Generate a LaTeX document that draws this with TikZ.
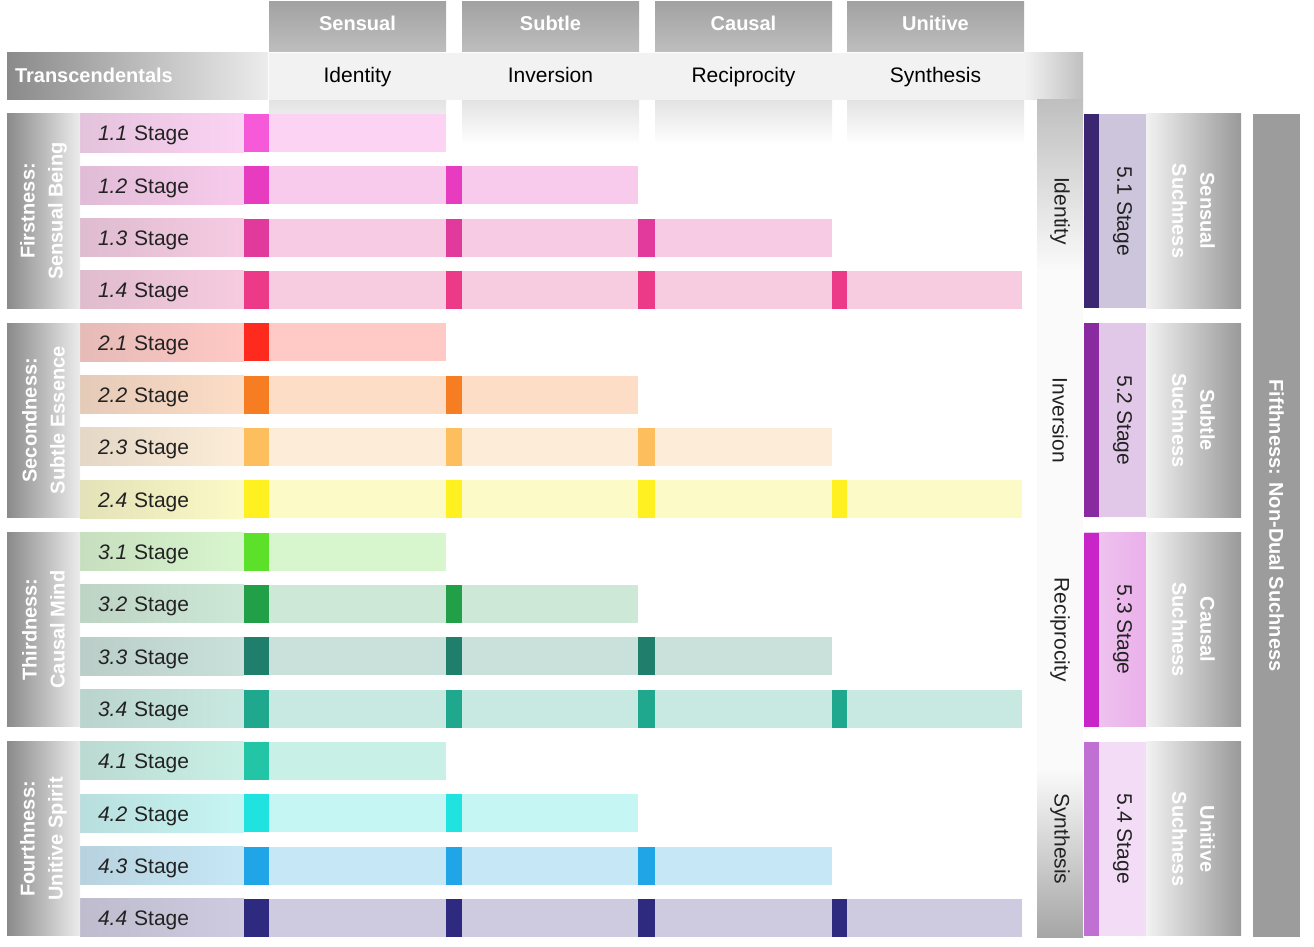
\documentclass[tikz,border=0pt]{standalone}
\usepackage{fontspec}
\setmainfont{Liberation Sans}
\usepackage{xcolor}
\usetikzlibrary{positioning}

% greys
\definecolor{hdtop}{HTML}{A2A2A2}
\definecolor{hdbot}{HTML}{BEBEBE}
\definecolor{grdark}{HTML}{8A8A8A}
\definecolor{grlight}{HTML}{ECECEC}
\definecolor{bandgr}{HTML}{F2F2F2}
\definecolor{txtdark}{HTML}{222222}
% stage markers (mk) and bars (br)
\definecolor{mk11}{HTML}{F65AD8} \definecolor{br11}{HTML}{FCD3F3}
\definecolor{mk12}{HTML}{E83CC0} \definecolor{br12}{HTML}{F8CBEC}
\definecolor{mk13}{HTML}{E23A9C} \definecolor{br13}{HTML}{F6CBE3}
\definecolor{mk14}{HTML}{EC3A88} \definecolor{br14}{HTML}{F7CBE0}
\definecolor{mk21}{HTML}{FF2A1E} \definecolor{br21}{HTML}{FFC9C5}
\definecolor{mk22}{HTML}{F77D22} \definecolor{br22}{HTML}{FDDDC6}
\definecolor{mk23}{HTML}{FDBE5E} \definecolor{br23}{HTML}{FDEDD8}
\definecolor{mk24}{HTML}{FFF022} \definecolor{br24}{HTML}{FCFAC6}
\definecolor{mk31}{HTML}{5CE02A} \definecolor{br31}{HTML}{D8F6CE}
\definecolor{mk32}{HTML}{22A048} \definecolor{br32}{HTML}{CDE8D6}
\definecolor{mk33}{HTML}{1F7E6C} \definecolor{br33}{HTML}{C9E1DA}
\definecolor{mk34}{HTML}{20A88E} \definecolor{br34}{HTML}{C8E9E1}
\definecolor{mk41}{HTML}{22C6A6} \definecolor{br41}{HTML}{C9F0E6}
\definecolor{mk42}{HTML}{20E2DE} \definecolor{br42}{HTML}{C6F6F4}
\definecolor{mk43}{HTML}{20A6E6} \definecolor{br43}{HTML}{C6E7F6}
\definecolor{mk44}{HTML}{2E2A80} \definecolor{br44}{HTML}{CECBE1}
\definecolor{mk51}{HTML}{3B2672} \definecolor{br51}{HTML}{CCC5DC}
\definecolor{mk52}{HTML}{8A2AA0} \definecolor{br52}{HTML}{E2C8E8}
\definecolor{mk53}{HTML}{C824C8} \definecolor{br53}{HTML}{F0C8F0}
\definecolor{mk54}{HTML}{C070D2} \definecolor{br54}{HTML}{F2DCF6}

\begin{document}
\begin{tikzpicture}[
    x=1pt, y=-1pt,
    node distance=0pt,
    box/.style={rectangle, anchor=north west, inner sep=0pt, outer sep=0pt},
    colhead/.style={box, minimum width=177pt, minimum height=50pt, top color=hdtop, bottom color=hdbot, text=white, text height=14pt, text depth=6pt, font=\bfseries\fontsize{20}{24}\selectfont},
    colsub/.style={rectangle, inner sep=0pt, outer sep=0pt, minimum width=177pt, minimum height=47pt, text height=15pt, text depth=2pt, font=\fontsize{21}{25}\selectfont},
    colshade/.style={box, minimum width=177pt, minimum height=45pt, top color=gray!22, bottom color=white},
    stagebox/.style={box, minimum height=38pt, text width=128pt, inner xsep=18pt, align=left, text=txtdark, text height=16pt, text depth=0pt, font=\fontsize{21}{25}\selectfont},
    barbox/.style={box, minimum height=38pt},
    markbox/.style={box, minimum height=38pt},
    groupbox/.style={box, minimum width=73pt, minimum height=194pt, left color=grdark, right color=grlight},
    grouptxt/.style={align=center, text=white, rotate=90, font=\bfseries\fontsize{20}{28}\selectfont},
    suchbox/.style={box, minimum width=95pt, minimum height=194pt, left color=bandgr, right color=gray!80},
    suchtxt/.style={align=center, text=white, rotate=-90, font=\bfseries\fontsize{20}{28}\selectfont},
    sidetxt/.style={text=txtdark, rotate=-90, font=\fontsize{21}{25}\selectfont}
]
\path[fill=white, use as bounding box] (0,0) rectangle (1314,947);

% Column shading under the headers
\node[colshade] (csen) at (269,100) {};
\node[colshade] (csub) at (462,100) {};
\node[colshade] (ccau) at (655,100) {};
\node[colshade] (cuni) at (847,100) {};

% L-shaped band of transcendentals
\node[box, minimum width=814pt, minimum height=47pt, fill=bandgr] (band) at (269,53) {};
\node[box, minimum width=59pt, minimum height=47pt, left color=bandgr, right color=gray!50] (corner) at (1024,53) {};
\node[box, minimum width=46pt, minimum height=837pt, fill=gray!4] (vband) at (1037,100) {};
\node[box, minimum width=46pt, minimum height=170pt, top color=gray!50, bottom color=gray!4] (vtop) at (1037,100) {};
\node[box, minimum width=46pt, minimum height=167pt, top color=gray!4, bottom color=gray!70] (vbot) at (1037,770) {};

% Column headers
\node[colhead] (hsen) at (269,2) {Sensual};
\node[colhead] (hsub) at (462,2) {Subtle};
\node[colhead] (hcau) at (655,2) {Causal};
\node[colhead] (huni) at (847,2) {Unitive};

\node[colsub, below=1pt of hsen] (tid) {Identity};
\node[colsub, below=1pt of hsub] (tinv) {Inversion};
\node[colsub, below=1pt of hcau] (trec) {Reciprocity};
\node[colsub, below=1pt of huni] (tsyn) {Synthesis};

\node[box, minimum width=261pt, minimum height=47pt, text width=245pt, inner xsep=8pt, align=left,
      left color=grdark, right color=grlight, text=white, text height=15pt, text depth=2pt, font=\bfseries\fontsize{20}{24}\selectfont] (trans) at (7,53) {Transcendentals};

% Stages 1.1 to 4.4
\foreach \g in {1,...,4}{
  \foreach \r in {1,...,4}{
    \pgfmathsetmacro{\ytop}{114+((\g-1)*4+\r-1)*52.33}
    \pgfmathsetmacro{\xend}{{446,638,832,1022}[\r-1]}
    \node[barbox, fill=br\g\r, minimum width={(\xend-80)*1pt}] (bar\g\r) at (80,\ytop) {};
    \node[stagebox, left color=br\g\r!80!gray, right color=br\g\r] (st\g\r) at (80,\ytop) {\textit{\g.\r} Stage};
    \foreach \xm/\wm [count=\c] in {244/25,446/16,638/17,832/15}{
      \ifnum\c>\r\else
        \node[markbox, fill=mk\g\r, minimum width=\wm pt] (mk\g\r\c) at (\xm,\ytop) {};
      \fi
    }
  }
}

% Group boxes on the left
\node[groupbox] (grp1) at (7,114) {};
\node[groupbox] (grp2) at (7,323.3) {};
\node[groupbox] (grp3) at (7,532.6) {};
\node[groupbox] (grp4) at (7,741.9) {};
\node[grouptxt] at (grp1.center) {Firstness:\\Sensual Being};
\node[grouptxt] at (grp2.center) {Secondness:\\Subtle Essence};
\node[grouptxt] at (grp3.center) {Thirdness:\\Causal Mind};
\node[grouptxt] at (grp4.center) {Fourthness:\\Unitive Spirit};

% Labels on the vertical band
\node[sidetxt] (vid) at (1060,211) {Identity};
\node[sidetxt] (vinv) at (1060,420.3) {Inversion};
\node[sidetxt] (vrec) at (1060,629.6) {Reciprocity};
\node[sidetxt] (vsyn) at (1060,838.9) {Synthesis};

% Stages 5.1 to 5.4
\node[box, minimum width=62pt, minimum height=194pt, fill=br51] (st51) at (1084,114) {};
\node[box, minimum width=62pt, minimum height=194pt, fill=br52] (st52) at (1084,323.3) {};
\node[box, minimum width=62pt, minimum height=194pt, left color=br53, right color=br53!85!mk53] (st53) at (1084,532.6) {};
\node[box, minimum width=62pt, minimum height=194pt, fill=br54] (st54) at (1084,741.9) {};
\node[box, minimum width=15pt, minimum height=194pt, fill=mk51] (mk51) at (1084,114) {};
\node[box, minimum width=15pt, minimum height=194pt, fill=mk52] (mk52) at (1084,323.3) {};
\node[box, minimum width=15pt, minimum height=194pt, fill=mk53] (mk53) at (1084,532.6) {};
\node[box, minimum width=15pt, minimum height=194pt, fill=mk54] (mk54) at (1084,741.9) {};
\node[sidetxt] at (1122.5,211) {5.1 Stage};
\node[sidetxt] at (1122.5,420.3) {5.2 Stage};
\node[sidetxt] at (1122.5,629.6) {5.3 Stage};
\node[sidetxt] at (1122.5,838.9) {5.4 Stage};

% Suchness boxes
\node[suchbox] (such1) at (1146,114) {};
\node[suchbox] (such2) at (1146,323.3) {};
\node[suchbox] (such3) at (1146,532.6) {};
\node[suchbox] (such4) at (1146,741.9) {};
\node[suchtxt] at (such1.center) {Sensual\\Suchness};
\node[suchtxt] at (such2.center) {Subtle\\Suchness};
\node[suchtxt] at (such3.center) {Causal\\Suchness};
\node[suchtxt] at (such4.center) {Unitive\\Suchness};

% Fifthness
\node[box, minimum width=47pt, minimum height=823pt, fill=gray!78] (fifth) at (1253,114) {};
\node[suchtxt] at (fifth.center) {Fifthness: Non-Dual Suchness};

\end{tikzpicture}
\end{document}
